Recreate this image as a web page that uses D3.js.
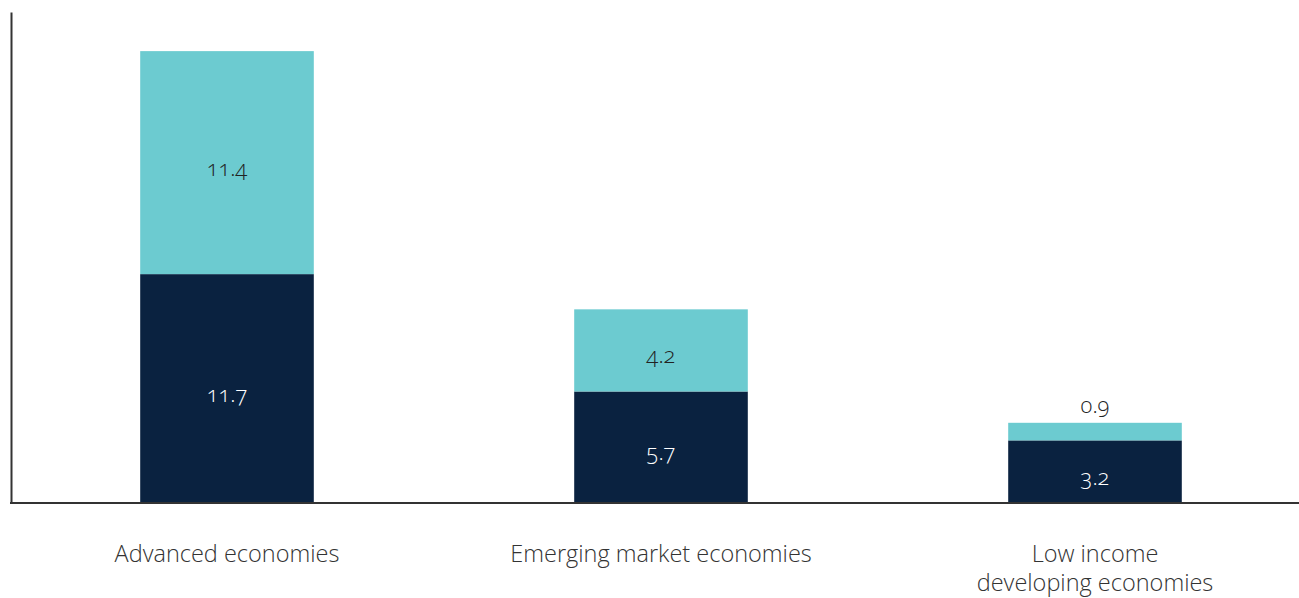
<!DOCTYPE html>
<html><head><meta charset="utf-8">
<script src="https://cdn.jsdelivr.net/npm/d3@7"></script>
<style>
body{margin:0;background:#fff;}
text{font-family:"Open Sans",Lato,sans-serif;font-weight:300;font-variant-numeric:oldstyle-nums;font-feature-settings:"onum";}
</style></head>
<body><svg id="c" width="1299" height="598"></svg>
<script>
const categories = ["Advanced economies", "Emerging market economies", "Low income\ndeveloping economies"];
const lowerValues = [11.7, 5.7, 3.2];
const upperValues = [11.4, 4.2, 0.9];
const colors = ["#0A2240", "#6CCBD0"];

const svg = d3.select("#c");
const x = d3.scaleBand().domain(categories).range([10, 1312]).paddingInner(0.6).paddingOuter(0.3);
const y = d3.scaleLinear().domain([0, 25.1]).range([503, 12]);

const data = categories.map((c, i) => ({cat: c, lo: lowerValues[i], up: upperValues[i]}));

const g = svg.append("g");
data.forEach(d => {
  g.append("rect").attr("x", x(d.cat)).attr("width", x.bandwidth())
    .attr("y", y(d.lo)).attr("height", y(0) - y(d.lo)).attr("fill", colors[0]);
  g.append("rect").attr("x", x(d.cat)).attr("width", x.bandwidth())
    .attr("y", y(d.lo + d.up)).attr("height", y(d.lo) - y(d.lo + d.up)).attr("fill", colors[1]);
  const cx = x(d.cat) + x.bandwidth() / 2;
  g.append("text").attr("x", cx).attr("y", (y(0) + y(d.lo)) / 2 + 4)
    .attr("text-anchor", "middle").attr("dominant-baseline", "central")
    .attr("font-size", 22).attr("fill", "#fff").text(d.lo.toFixed(1));
  const hUp = y(d.lo) - y(d.lo + d.up);
  const upY = hUp > 40 ? (y(d.lo) + y(d.lo + d.up)) / 2 + 4 : y(d.lo + d.up) - 19;
  g.append("text").attr("x", cx).attr("y", upY)
    .attr("text-anchor", "middle").attr("dominant-baseline", "central")
    .attr("font-size", 22).attr("fill", "#222").text(d.up.toFixed(1));
});

// axes
const xAxis = svg.append("g").attr("transform", `translate(0,${y(0)})`)
  .call(d3.axisBottom(x).tickSize(0).tickFormat(""));
xAxis.select(".domain").attr("d", `M10,0H1299`).attr("stroke", "#333").attr("stroke-width", 2);
const yAxis = svg.append("g").attr("transform", "translate(11,0)")
  .call(d3.axisLeft(y).tickValues([]).tickSize(0));
yAxis.select(".domain").attr("stroke", "#333").attr("stroke-width", 2);

// category labels
categories.forEach(c => {
  const lines = c.split("\n");
  const t = svg.append("text").attr("x", x(c) + x.bandwidth() / 2).attr("y", 562)
    .attr("text-anchor", "middle").attr("font-size", 23.5).attr("fill", "#333");
  lines.forEach((l, i) => t.append("tspan").attr("x", x(c) + x.bandwidth() / 2).attr("dy", i ? 29 : 0).text(l));
});
</script></body></html>
